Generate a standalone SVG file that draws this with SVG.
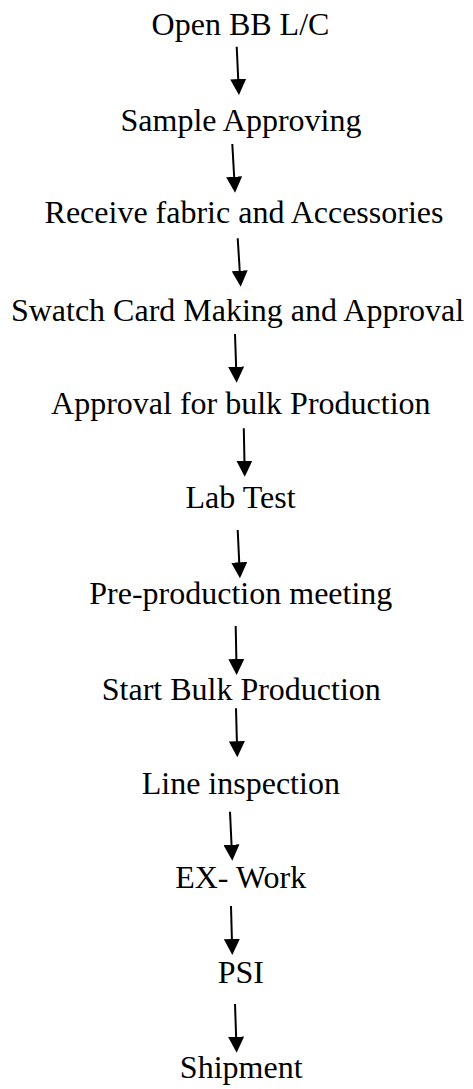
<svg xmlns="http://www.w3.org/2000/svg" width="473" height="1089" viewBox="0 0 473 1089">
<style>
.t{font-family:"Liberation Serif","Times New Roman",serif;font-size:32px;fill:#000;text-anchor:middle}
.c{stroke:#000;stroke-width:2;fill:none;marker-end:url(#ah)}
</style>
<defs>
<marker id="ah" viewBox="0 0 16 16" refX="8" refY="8" markerWidth="16" markerHeight="16" markerUnits="userSpaceOnUse" orient="auto">
<path d="M0,0 L16,8 L0,16 z" fill="#000"/>
</marker>
</defs>
<rect width="473" height="1089" fill="#fff"/>
<g id="n1"><text class="t" x="240.5" y="35">Open BB L/C</text></g>
<g id="n2"><text class="t" x="241" y="130.5">Sample Approving</text></g>
<g id="n3"><text class="t" x="244" y="223.3">Receive fabric and Accessories</text></g>
<g id="n4"><text class="t" x="237.5" y="320.7">Swatch Card Making and Approval</text></g>
<g id="n5"><text class="t" x="240.8" y="414.3">Approval for bulk Production</text></g>
<g id="n6"><text class="t" x="240.5" y="508.3">Lab Test</text></g>
<g id="n7"><text class="t" x="240.8" y="604">Pre-production meeting</text></g>
<g id="n8"><text class="t" x="241.3" y="700">Start Bulk Production</text></g>
<g id="n9"><text class="t" x="240.8" y="794.3">Line inspection</text></g>
<g id="n10"><text class="t" x="240.7" y="888.3">EX- Work</text></g>
<g id="n11"><text class="t" x="240.8" y="983.3">PSI</text></g>
<g id="n12"><text class="t" x="241.2" y="1078.3">Shipment</text></g>
<g id="connectors">
<line class="c" x1="236.7" y1="46.7" x2="238.6" y2="87"/>
<line class="c" x1="232.3" y1="144" x2="234.6" y2="184.7"/>
<line class="c" x1="237.7" y1="238.3" x2="240.2" y2="278.7"/>
<line class="c" x1="235" y1="334" x2="236.4" y2="374.7"/>
<line class="c" x1="243.8" y1="428.3" x2="244.6" y2="468.7"/>
<line class="c" x1="237.7" y1="530" x2="239.6" y2="570.3"/>
<line class="c" x1="235.7" y1="626" x2="236.5" y2="667"/>
<line class="c" x1="236" y1="708.3" x2="237.1" y2="749.3"/>
<line class="c" x1="230" y1="811.7" x2="231.9" y2="852.7"/>
<line class="c" x1="231" y1="906" x2="232.1" y2="947"/>
<line class="c" x1="235" y1="1004" x2="236.4" y2="1044.7"/>
</g>
</svg>
